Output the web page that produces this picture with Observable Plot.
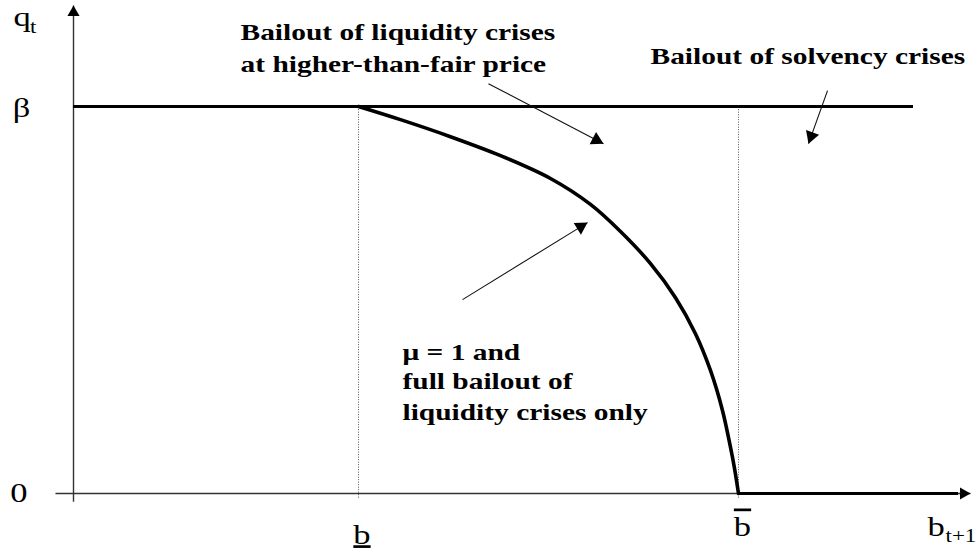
<!DOCTYPE html>
<html>
<head>
<meta charset="utf-8">
<script src="https://cdn.jsdelivr.net/npm/d3@7"></script>
<script src="https://cdn.jsdelivr.net/npm/@observablehq/plot@0.6"></script>
<style>
  html, body { margin: 0; padding: 0; background: #fff; }
  #chart svg .underline text { text-decoration: underline; }
  #chart svg .overline text { text-decoration: overline; }
</style>
</head>
<body>
<div id="chart"></div>
<script>
// Debt thresholds and the price ceiling
const bLow = 3;
const bHigh = 7;
const beta = 1;

// Bond price schedule q(b) between the two thresholds (mu = 1, full bailout of liquidity crises)
const curveB = [3.0, 3.442, 3.968, 4.495, 5.021, 5.442, 5.758, 6.074, 6.337, 6.547, 6.705, 6.832, 6.916, 6.958, 7.0];
const curveQ = [1.0, 0.966, 0.922, 0.873, 0.814, 0.747, 0.677, 0.594, 0.506, 0.413, 0.318, 0.214, 0.119, 0.065, 0.0];

// Extent of the drawn axes and lines
const xAxisFrom = -0.19, xAxisTo = 9.442;
const yAxisFrom = -0.021, yAxisTo = 1.261;
const betaLineTo = 8.842;
const zeroLineTo = 9.316;

// Annotation texts and the points they are anchored at
const noteLines = [
  "Bailout of liquidity crises",
  "at higher-than-fair price",
  "Bailout of solvency crises",
  "\u03bc = 1 and",
  "full bailout of",
  "liquidity crises only"
];
const noteB = [1.758, 1.758, 6.074, 3.463, 3.463, 3.463];
const noteQ = [1.171, 1.090, 1.111, 0.346, 0.269, 0.191];

// Annotation arrows: start and tip
const arrowFromB = [4.368, 7.937, 4.095];
const arrowFromQ = [1.059, 1.041, 0.501];
const arrowToB = [5.579, 7.737, 5.411];
const arrowToQ = [0.904, 0.904, 0.700];

const W = 979, H = 555;
const xDomain = [-73 / 95, (W - 73) / 95];
const yDomain = [-(H - 493) / 387, 493 / 387];
const sx = d3.scaleLinear(xDomain, [0, W]);
const sy = d3.scaleLinear(yDomain, [H, 0]);

const curve = curveB.map((b, i) => ({b, q: curveQ[i]}));
const notes = noteLines.map((text, i) => ({text, b: noteB[i], q: noteQ[i]}));
const arrows = arrowFromB.map((_, i) => ({x1: arrowFromB[i], y1: arrowFromQ[i], x2: arrowToB[i], y2: arrowToQ[i]}));
const axes = [
  {x1: 0, y1: yAxisFrom, x2: 0, y2: yAxisTo},
  {x1: xAxisFrom, y1: 0, x2: xAxisTo, y2: 0}
];

// A filled triangular head at the end of a segment; the triangle's tip sits
// two thirds of its length ahead of its centre.
function head(a, len) {
  const x1 = sx(a.x1), y1 = sy(a.y1), x2 = sx(a.x2), y2 = sy(a.y2);
  const dx = x2 - x1, dy = y2 - y1, L = Math.hypot(dx, dy);
  const back = len * 2 / 3;
  return {
    x: sx.invert(x2 - dx / L * back),
    y: sy.invert(y2 - dy / L * back),
    rotate: Math.atan2(dx, -dy) * 180 / Math.PI
  };
}
const noteHeads = arrows.map(a => head(a, 12));
const axisHeads = axes.map(a => head(a, 10.5));

const serif = "'Liberation Serif', 'Times New Roman', serif";

const chart = Plot.plot({
  width: W,
  height: H,
  margin: 0,
  x: {domain: xDomain, axis: null},
  y: {domain: yDomain, axis: null},
  style: {background: "white", fontFamily: serif, color: "black"},
  marks: [
    // dotted guides at the thresholds
    Plot.ruleX([bLow, bHigh], {y1: -0.012, y2: beta, stroke: "#555", strokeWidth: 1, strokeDasharray: "1,1.5"}),
    // axes
    Plot.link(axes, {x1: "x1", y1: "y1", x2: "x2", y2: "y2", stroke: "#333", strokeWidth: 1.4}),
    Plot.dot(axisHeads, {x: "x", y: "y", rotate: "rotate", symbol: "triangle", r: 0.4287 * 10.5, fill: "black", stroke: "none"}),
    // price ceiling and the zero segment past the upper threshold
    Plot.ruleY([beta], {x1: 0, x2: betaLineTo, stroke: "black", strokeWidth: 3}),
    Plot.ruleY([0], {x1: bHigh, x2: zeroLineTo, stroke: "black", strokeWidth: 3}),
    // price schedule
    Plot.line(curve, {x: "b", y: "q", curve: "catmull-rom", stroke: "black", strokeWidth: 3.6}),
    // annotation arrows
    Plot.link(arrows, {x1: "x1", y1: "y1", x2: "x2", y2: "y2", stroke: "#111", strokeWidth: 1.1}),
    Plot.dot(noteHeads, {x: "x", y: "y", rotate: "rotate", symbol: "triangle", r: 0.4287 * 12, fill: "black", stroke: "none"}),
    // annotation texts
    Plot.text(notes, {x: "b", y: "q", text: "text", textAnchor: "start", lineAnchor: "bottom", fontSize: 23, fontWeight: "bold", fontFamily: serif, fill: "black"}),
    // axis values
    Plot.text(["\u03b2"], {x: 0, y: beta, dx: -52, dy: 10, textAnchor: "middle", lineAnchor: "bottom", fontSize: 27, fontFamily: serif, fill: "black"}),
    Plot.text(["0"], {x: 0, y: 0, dx: -54.5, dy: 8, textAnchor: "middle", lineAnchor: "bottom", fontSize: 27, fontFamily: serif, fill: "black"}),
    Plot.text(["b"], {x: bLow, y: 0, dx: 3.5, dy: 50, textAnchor: "middle", lineAnchor: "bottom", fontSize: 27, fontFamily: serif, fill: "black", className: "underline"}),
    Plot.text(["b"], {x: bHigh, y: 0, dx: 4, dy: 42, textAnchor: "middle", lineAnchor: "bottom", fontSize: 27, fontFamily: serif, fill: "black", className: "overline"}),
    // axis titles with subscripts
    Plot.text(["q"], {x: 0, y: yAxisTo, dx: -60, dy: 21, textAnchor: "start", lineAnchor: "bottom", fontSize: 27, fontFamily: serif, fill: "black"}),
    Plot.text(["t"], {x: 0, y: yAxisTo, dx: -43.5, dy: 28, textAnchor: "start", lineAnchor: "bottom", fontSize: 18, fontFamily: serif, fill: "black"}),
    Plot.text(["b"], {x: xAxisTo, y: 0, dx: -43, dy: 42, textAnchor: "start", lineAnchor: "bottom", fontSize: 27, fontFamily: serif, fill: "black"}),
    Plot.text(["t+1"], {x: xAxisTo, y: 0, dx: -25, dy: 48, textAnchor: "start", lineAnchor: "bottom", fontSize: 18, fontFamily: serif, fill: "black"})
  ]
});

// The lettering is set wide: stretch every text horizontally about its anchor.
chart.querySelectorAll("text").forEach(t => {
  t.setAttribute("transform", ((t.getAttribute("transform") || "") + " scale(1.28,1)").trim());
});

document.getElementById("chart").append(chart);
</script>
</body>
</html>
